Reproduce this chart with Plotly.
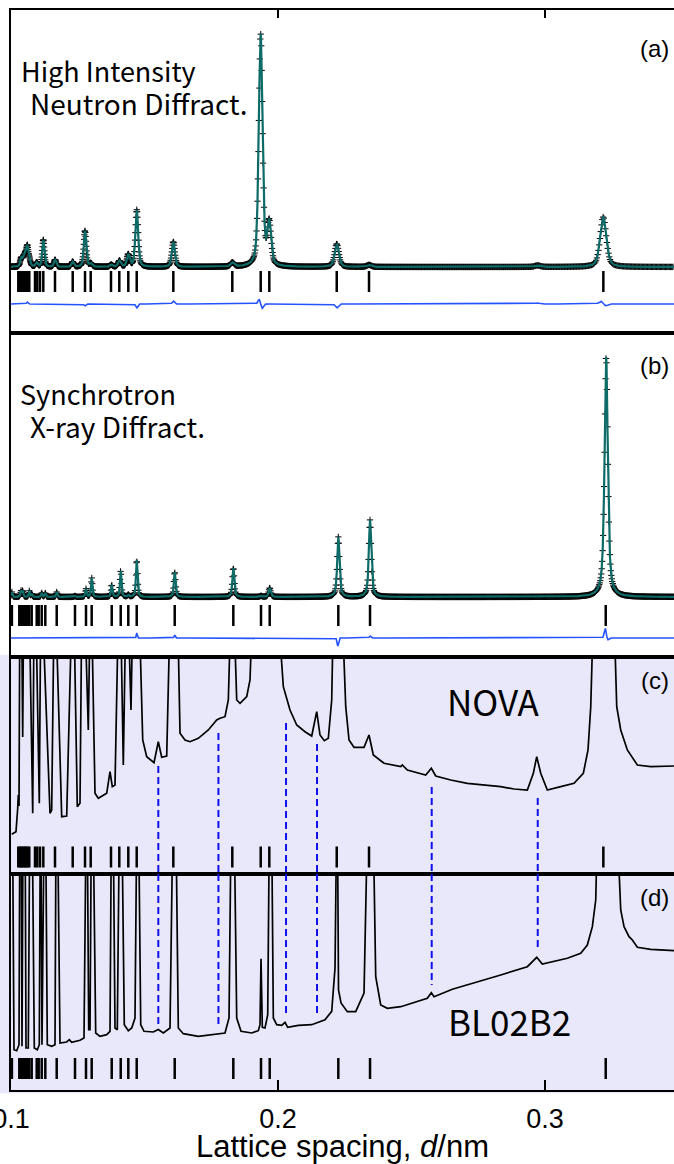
import numpy as np
import plotly.graph_objects as go

# ---------------- data ----------------
X_RANGE = [0.1, 0.3483]
tick_vals = [0.1, 0.2, 0.3]
tick_text = ["0.1", "0.2", "0.3"]

# reflection positions (nm)
neutron_refl = [0.10273, 0.10326, 0.10375, 0.10423, 0.10476, 0.10524, 0.10573, 0.10625, 0.10685,
                0.10899, 0.10985, 0.11086, 0.11210, 0.11648, 0.12311, 0.12772, 0.12985, 0.13745,
                0.14056, 0.14393, 0.14708, 0.16079, 0.18288, 0.19352, 0.19674, 0.22199, 0.23408, 0.32184]
xray_refl = [0.10034, 0.10311, 0.10375, 0.10438, 0.10498, 0.10562, 0.10625, 0.10685, 0.10775,
             0.10963, 0.11037, 0.11150, 0.11285, 0.11712, 0.12397, 0.12809, 0.13022, 0.13772,
             0.14109, 0.14393, 0.14708, 0.16131, 0.18326, 0.19363, 0.19689, 0.22258, 0.23446, 0.32273]

# (a) neutron pattern: peak positions / heights (arb. units above background)
a_peak_d = [0.1038, 0.1046, 0.1053, 0.1061, 0.1069, 0.1096, 0.1121, 0.1165, 0.1231, 0.1277, 0.1299,
            0.1375, 0.1406, 0.1439, 0.1471, 0.1608, 0.1829, 0.1935, 0.1967, 0.2220, 0.2341, 0.2972, 0.3218]
a_peak_h = [8, 6, 10, 19, 6, 4, 27, 7, 5, 36, 3,
            2, 6, 12, 57, 25, 4, 232, 42, 23, 2, 1.5, 50]
a_diff_d = [0.1061, 0.1277, 0.1471, 0.1608, 0.1930, 0.1940, 0.2220, 0.2972, 0.3210, 0.3226]
a_diff_h = [2, -2, -4, 3, 5, -5, -4, 1, 3, -2]

# (b) synchrotron pattern
b_peak_d = [0.10034, 0.10375, 0.10438, 0.10685, 0.10775, 0.11150, 0.11285, 0.11712, 0.12397, 0.12809,
            0.13022, 0.13772, 0.14109, 0.14393, 0.14708, 0.16131, 0.18326, 0.19363, 0.19689, 0.22258,
            0.23446, 0.32290]
b_peak_h = [5, 6, 6, 6, 3, 4, 4, 5, 1, 8,
            19, 12, 26, 2, 37, 25, 29, 1, 9, 60,
            77, 240]
b_diff_d = [0.1471, 0.1613, 0.2224, 0.2345, 0.3226, 0.3233]
b_diff_h = [5, 3, -8, 2, 10, -3]

# (c) NOVA profile (values above 217 are off scale)
c_d = [0.10026, 0.10187, 0.10251, 0.10273, 0.10300, 0.10330, 0.10400, 0.10438, 0.10470, 0.10560,
       0.10690, 0.10813, 0.10861, 0.10936, 0.11060, 0.11112, 0.11187, 0.11461, 0.11524, 0.11610,
       0.11685, 0.11899, 0.12086, 0.12273, 0.12360, 0.12483, 0.12584, 0.12648, 0.12772, 0.12895,
       0.12959, 0.13022, 0.13146, 0.13270, 0.13584, 0.13708, 0.13794, 0.13895, 0.14019, 0.14109,
       0.14206, 0.14296, 0.14393, 0.14494, 0.14558, 0.14805, 0.14933, 0.15082, 0.15356, 0.15517,
       0.15644, 0.15831, 0.15955, 0.16243, 0.16330, 0.16517, 0.16704, 0.17015, 0.17390, 0.17704,
       0.17828, 0.18015, 0.18139, 0.18229, 0.18352, 0.18453, 0.18577, 0.18828, 0.18951, 0.19037,
       0.20011, 0.20199, 0.20449, 0.20700, 0.21011, 0.21262, 0.21449, 0.21573, 0.21734, 0.21884,
       0.22011, 0.22071, 0.22408, 0.22536, 0.22659, 0.22846, 0.23221, 0.23408, 0.23569, 0.23970,
       0.24596, 0.24655, 0.24843, 0.25532, 0.25742, 0.25906, 0.26468, 0.27090, 0.27715, 0.28341,
       0.28839, 0.29337, 0.29562, 0.29689, 0.29839, 0.30086, 0.30588, 0.31086, 0.31434, 0.31610,
       0.31712, 0.31809, 0.32584, 0.32685, 0.32835, 0.33082, 0.33457, 0.33959, 0.34831]
c_int = [39.7, 42.3, 65.7, 79, 68, 260, 260, 137, 260, 260,
         260, 60.7, 260, 260, 70.7, 260, 260, 60.7, 64, 260,
         260, 57.3, 58, 260, 260, 67.3, 70.7, 260, 260, 144,
         260, 260, 80.7, 75.7, 80.7, 102.3, 87.3, 89, 260, 260,
         109, 260, 260, 164, 260, 260, 134, 117.3, 111.3, 132.3,
         116.7, 118, 260, 260, 140.7, 134, 132.3, 135.7, 144, 154,
         155.7, 157.3, 174, 260, 260, 174, 170.7, 177.3, 194, 260,
         260, 187.3, 164, 149, 142.3, 138, 162.3, 139, 133.3, 135.7,
         174, 260, 260, 167.3, 134, 126.7, 126.7, 139, 119, 110.7,
         107.3, 109, 104, 99, 105.7, 98, 94, 90.7, 89, 87.3,
         85, 84, 100.7, 117.3, 100.7, 84, 87.3, 90.7, 100.7, 124,
         167.3, 260, 260, 167.3, 144, 124, 109, 107.3, 108]

# (d) BL02B2 profile (values above 216 are off scale)
d_d = [0.10010, 0.10060, 0.10112, 0.10213, 0.10300, 0.10330, 0.10385, 0.10412, 0.10450, 0.10530,
       0.10562, 0.10648, 0.10700, 0.10798, 0.10873, 0.10985, 0.11060, 0.11097, 0.11120, 0.11161,
       0.11236, 0.11300, 0.11360, 0.11524, 0.11648, 0.11685, 0.11749, 0.11835, 0.12086, 0.12184,
       0.12273, 0.12584, 0.12734, 0.12809, 0.12858, 0.12910, 0.12959, 0.13007, 0.13082, 0.13172,
       0.13333, 0.13584, 0.13708, 0.13757, 0.13831, 0.13895, 0.13981, 0.14056, 0.14157, 0.14243,
       0.14393, 0.14521, 0.14644, 0.14708, 0.14783, 0.14858, 0.14981, 0.15330, 0.15517, 0.15704,
       0.15955, 0.16056, 0.16180, 0.16266, 0.16453, 0.17015, 0.17640, 0.18015, 0.18165, 0.18240,
       0.18363, 0.18453, 0.18614, 0.19015, 0.19262, 0.19326, 0.19363, 0.19412, 0.19513, 0.19614,
       0.19674, 0.19764, 0.19824, 0.19951, 0.20139, 0.20262, 0.20363, 0.20760, 0.21262, 0.21760,
       0.22011, 0.22135, 0.22191, 0.22228, 0.22266, 0.22360, 0.22596, 0.22910, 0.23221, 0.23345,
       0.23569, 0.23659, 0.23846, 0.24094, 0.24596, 0.25094, 0.25592, 0.25742, 0.25843, 0.26528,
       0.27090, 0.28341, 0.29337, 0.29689, 0.29899, 0.30835, 0.31337, 0.31584, 0.31772, 0.31899,
       0.31959, 0.32708, 0.32835, 0.32959, 0.33146, 0.33270, 0.33457, 0.33959, 0.34831]
d_int = [260, 260, 40.3, 39.3, 45.3, 260, 260, 43.7, 260, 260,
         42, 42, 260, 260, 42, 40.3, 45.3, 260, 260, 45.3,
         260, 260, 45.3, 43.7, 45.3, 260, 260, 47, 48, 50.3,
         47.7, 49.7, 52, 260, 260, 60.3, 60.3, 260, 260, 57,
         53.7, 55.3, 58.7, 260, 260, 62, 60.3, 260, 260, 65.3,
         59.3, 62, 72, 260, 260, 65.3, 58.7, 58, 60.5, 57,
         62, 260, 260, 62, 56.3, 53.7, 55.3, 57, 72, 260,
         260, 72, 58.7, 57, 59.3, 65.3, 131.3, 62.7, 62, 75.3,
         260, 260, 72, 65.3, 64.7, 67.7, 62.7, 64.7, 65.3, 70.3,
         78.7, 122, 260, 260, 100, 87, 78.3, 78.3, 97, 260,
         260, 113.3, 85, 81.7, 83.3, 87.3, 91.7, 97.3, 93.3, 100.7,
         105, 115, 123.3, 132.7, 126, 131.7, 136.7, 145, 163.3, 190,
         260, 260, 180, 163.3, 153.3, 150, 142.7, 140.7, 139.3]

# impurity peaks (blue dashed guide lines)
imp_d = [0.15517, 0.17768, 0.20300, 0.21461, 0.25756, 0.29727]
imp_c_level = [108, 141, 151, 130, 87, 76]
imp_d_level = [65, 66, 77, 74, 105, 142]

# ---------------- styling ----------------
TEAL = "#0d6b68"
BLUE = "#2452ff"
DASH_BLUE = "#1010ee"
LAVENDER = "#e8e8fa"
TEXT_FONT = "Noto Sans CJK JP"
AX_FONT = "Liberation Sans"

Y_RANGES = {1: [-66, 257], 2: [-60, 264], 3: [0, 217], 4: [0, 216]}
DOMAINS = {1: [0.70093, 1.0], 2: [0.40093, 0.70093], 3: [0.2, 0.40093], 4: [0.0, 0.2]}
A_DIFF_BASE, B_DIFF_BASE = -37, -41
REFL_LEVEL = {1: -14.5, 2: -18.5, 3: 17, 4: 21.5}


def profile(x, centers, heights, ratio, eta):
    y = np.zeros_like(x)
    for c, h in zip(centers, heights):
        t = (x - c) / (ratio * c / 2.0)
        y += h * (eta / (1 + t ** 2) + (1 - eta) * np.exp(-np.log(2) * t ** 2))
    return y


x_fine = np.arange(0.1, 0.3485, 0.00002)
x_obs_a = 0.1 * 1.0009 ** np.arange(int(np.log(3.485) / np.log(1.0009)))
x_obs_b = np.arange(0.1, 0.3485, 0.00018)

fig = go.Figure()


def add(tr, n):
    tr.update(xaxis="x" if n == 1 else f"x{n}", yaxis="y" if n == 1 else f"y{n}", showlegend=False,
              hoverinfo="skip")
    fig.add_trace(tr)


obs_marker = dict(symbol="cross-thin", size=4.5, line=dict(width=1, color="black"))
refl_marker = dict(symbol="line-ns", size=15, line=dict(width=2.5, color="black"))

# panel (a)
add(go.Scatter(x=x_obs_a, y=profile(x_obs_a, a_peak_d, a_peak_h, 0.0085, 0.45), mode="markers",
               marker=obs_marker), 1)
add(go.Scatter(x=x_fine, y=profile(x_fine, a_peak_d, a_peak_h, 0.0085, 0.45), mode="lines",
               line=dict(color=TEAL, width=2.2)), 1)
add(go.Scatter(x=x_fine, y=A_DIFF_BASE + profile(x_fine, a_diff_d, a_diff_h, 0.006, 0.0), mode="lines",
               line=dict(color=BLUE, width=1.6)), 1)
add(go.Scatter(x=neutron_refl, y=[REFL_LEVEL[1]] * len(neutron_refl), mode="markers",
               marker=refl_marker), 1)

# panel (b)
add(go.Scatter(x=x_obs_b, y=profile(x_obs_b, b_peak_d, b_peak_h, 0.0045, 0.7), mode="markers",
               marker=obs_marker), 2)
add(go.Scatter(x=x_fine, y=profile(x_fine, b_peak_d, b_peak_h, 0.0045, 0.7), mode="lines",
               line=dict(color=TEAL, width=2.2)), 2)
add(go.Scatter(x=x_fine, y=B_DIFF_BASE + profile(x_fine, b_diff_d, b_diff_h, 0.003, 0.0), mode="lines",
               line=dict(color=BLUE, width=1.6)), 2)
add(go.Scatter(x=xray_refl, y=[REFL_LEVEL[2]] * len(xray_refl), mode="markers",
               marker=refl_marker), 2)

# panel (c)
add(go.Scatter(x=c_d, y=c_int, mode="lines", line=dict(color="black", width=1.7)), 3)
add(go.Scatter(x=neutron_refl, y=[REFL_LEVEL[3]] * len(neutron_refl), mode="markers",
               marker=refl_marker), 3)
# panel (d)
add(go.Scatter(x=d_d, y=d_int, mode="lines", line=dict(color="black", width=1.7)), 4)
add(go.Scatter(x=xray_refl, y=[REFL_LEVEL[4]] * len(xray_refl), mode="markers",
               marker=refl_marker), 4)

# dashed guide lines
for xd, yc, yd in zip(imp_d, imp_c_level, imp_d_level):
    add(go.Scatter(x=[xd, xd], y=[yc, Y_RANGES[3][0]], mode="lines",
                   line=dict(color=DASH_BLUE, width=2, dash="7px,4px")), 3)
    add(go.Scatter(x=[xd, xd], y=[Y_RANGES[4][1], yd], mode="lines",
                   line=dict(color=DASH_BLUE, width=2, dash="7px,4px")), 4)

layout = dict(width=674, height=1164, margin=dict(l=11, r=0, t=10, b=74, autoexpand=False),
              paper_bgcolor="white", plot_bgcolor="rgba(0,0,0,0)")
for n in range(1, 5):
    xs = "xaxis" if n == 1 else f"xaxis{n}"
    ys = "yaxis" if n == 1 else f"yaxis{n}"
    xa = dict(range=X_RANGE, domain=[0, 1], anchor="y" if n == 1 else f"y{n}", showgrid=False,
              zeroline=False, showline=True, linecolor="black", linewidth=1.6, mirror=True,
              ticks="", showticklabels=False, automargin=False)
    if n == 1:
        xa.update(side="top", ticks="inside", ticklen=8, tickwidth=1.5, tickcolor="black", tickvals=tick_vals)
    if n == 4:
        xa.update(ticks="inside", ticklen=10, tickwidth=1.5, tickcolor="black", tickvals=tick_vals,
                  ticktext=tick_text, showticklabels=True, ticklabelstandoff=4,
                  ticklabeloverflow="allow",
                  tickfont=dict(family=AX_FONT, size=27, color="black"),
                  title=dict(text="Lattice spacing, <i>d</i>/nm", standoff=15,
                             font=dict(family=AX_FONT, size=31, color="black")))
    ya = dict(range=Y_RANGES[n], domain=DOMAINS[n], anchor="x" if n == 1 else f"x{n}", showgrid=False,
              zeroline=False, showline=True, linecolor="black", linewidth=1.6, mirror=False,
              ticks="", showticklabels=False, automargin=False)
    layout[xs] = xa
    layout[ys] = ya

layout["shapes"] = [dict(type="rect", xref="paper", yref="paper", x0=-0.02, x1=1.02, y0=-0.003, y1=0.4028,
                         fillcolor=LAVENDER, line=dict(width=0), layer="below")]


def ann(text, x, y, size, xanchor="left", family=TEXT_FONT):
    return dict(text=text, x=x, y=y, xref="paper", yref="paper", xanchor=xanchor, yanchor="middle",
                showarrow=False, borderpad=0, font=dict(family=family, size=size, color="black"))


layout["annotations"] = [
    ann("High Intensity", 0.0136, 0.9440, 27),
    ann("Neutron Diffract.", 0.0272, 0.9140, 28),
    ann("Synchrotron", 0.0121, 0.6449, 27),
    ann("X-ray Diffract.", 0.0272, 0.6145, 28),
    ann("NOVA", 0.727, 0.3602, 35, "center"),
    ann("BL02B2", 0.7526, 0.0648, 35, "center"),
    ann("(a)", 0.9713, 0.9648, 24, "center", AX_FONT),
    ann("(b)", 0.9713, 0.6704, 24, "center", AX_FONT),
    ann("(c)", 0.9713, 0.3796, 24, "center", AX_FONT),
    ann("(d)", 0.9713, 0.1787, 24, "center", AX_FONT),
]
fig.update_layout(**layout)
fig.write_html("out.html", config={"displayModeBar": False},
               post_script="document.body.style.margin='0px';")
